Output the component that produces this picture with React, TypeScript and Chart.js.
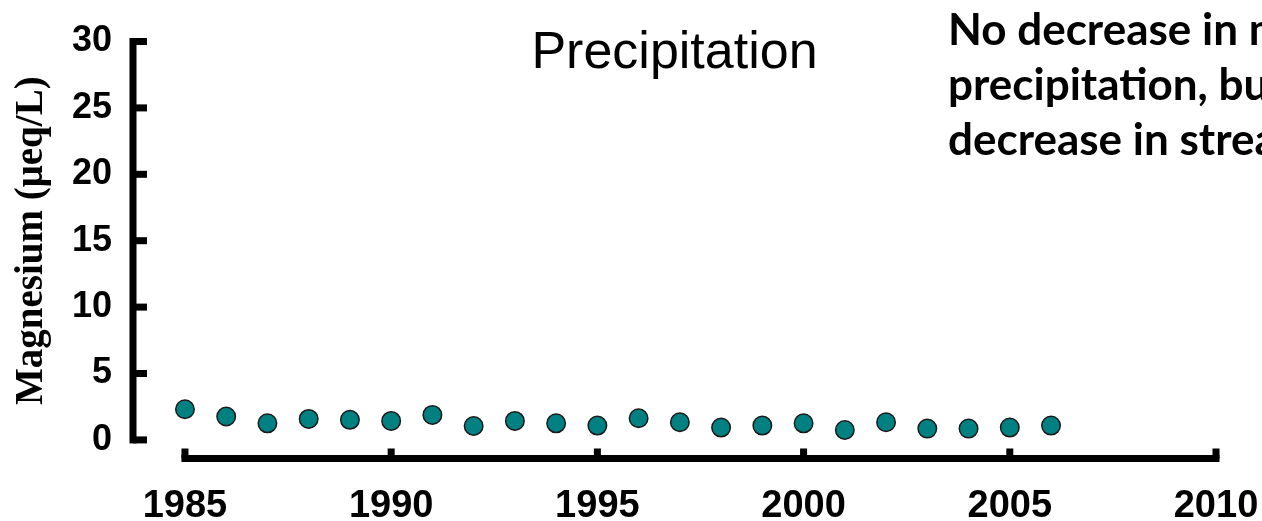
import React, { useEffect, useRef } from "react";
import { Chart, registerables } from "chart.js";

Chart.register(...registerables);

// Annual mean magnesium concentration in precipitation
const years = [
  1985, 1986, 1987, 1988, 1989, 1990, 1991, 1992, 1993, 1994, 1995,
  1996, 1997, 1998, 1999, 2000, 2001, 2002, 2003, 2004, 2005, 2006,
];
const magnesium = [
  2.31, 1.76, 1.25, 1.58, 1.51, 1.43, 1.88, 1.05, 1.43, 1.25, 1.08,
  1.63, 1.33, 0.93, 1.08, 1.25, 0.75, 1.33, 0.85, 0.85, 0.93, 1.08,
];

const xTicks = [1985, 1990, 1995, 2000, 2005, 2010];
const yTicks = [0, 5, 10, 15, 20, 25, 30];

const chartTitle = "Precipitation";
const yAxisTitle = "Magnesium (\u03bceq/L)";
const noteLines = [
  "No decrease in magnesium in",
  "precipitation, but a",
  "decrease in stream water",
];

const WIDTH = 1262;
const HEIGHT = 521;
const AXIS_W = 7;

// Axis lines drawn apart from each other, with inward/upward tick marks
const detachedAxes = {
  id: "detachedAxes",
  beforeDatasetsDraw(chart: any) {
    const { ctx, chartArea, scales } = chart;
    const x = scales.x;
    const y = scales.y;
    const half = AXIS_W / 2;
    ctx.save();
    ctx.fillStyle = "#000";

    const left = chartArea.left;
    const yTop = y.getPixelForValue(yTicks[yTicks.length - 1]);
    const yBot = y.getPixelForValue(yTicks[0]);
    ctx.fillRect(left - half, yTop - half, AXIS_W, yBot - yTop + AXIS_W);
    yTicks.forEach((v) => {
      const py = y.getPixelForValue(v);
      ctx.fillRect(left, py - half, 14, AXIS_W);
    });

    const base = chartArea.bottom;
    const x0 = x.getPixelForValue(xTicks[0]);
    const x1 = x.getPixelForValue(xTicks[xTicks.length - 1]);
    ctx.fillRect(x0 - half, base - half, x1 - x0 + AXIS_W, AXIS_W);
    xTicks.forEach((v) => {
      const px = x.getPixelForValue(v);
      ctx.fillRect(px - half, base - 10, AXIS_W, 10);
    });
    ctx.restore();
  },
};

// Chart title, rotated y-axis title and the side note
const textLayer = {
  id: "textLayer",
  afterDraw(chart: any) {
    const { ctx, chartArea, scales } = chart;
    ctx.save();
    ctx.fillStyle = "#000";

    ctx.font = "52px 'Liberation Sans', Arial, sans-serif";
    ctx.textAlign = "center";
    ctx.textBaseline = "alphabetic";
    ctx.fillText(chartTitle, (chartArea.left + chartArea.right) / 2, 68);

    const yMid =
      (scales.y.getPixelForValue(yTicks[0]) +
        scales.y.getPixelForValue(yTicks[yTicks.length - 1])) / 2;
    ctx.save();
    ctx.translate(42, yMid);
    ctx.rotate(-Math.PI / 2);
    ctx.font = "bold 39px 'Liberation Serif', 'Times New Roman', serif";
    ctx.textAlign = "center";
    ctx.textBaseline = "alphabetic";
    ctx.fillText(yAxisTitle, 0, 0);
    ctx.restore();

    ctx.font = "bold 44px Lato, 'Noto Sans', sans-serif";
    ctx.textAlign = "left";
    ctx.textBaseline = "alphabetic";
    noteLines.forEach((line, i) => {
      ctx.fillText(line, 948, 45 + i * 55);
    });
    ctx.restore();
  },
};

export default function App() {
  const canvasRef = useRef<HTMLCanvasElement | null>(null);

  useEffect(() => {
    const canvas = canvasRef.current;
    if (!canvas) return;

    const chart = new Chart(canvas, {
      type: "scatter",
      data: {
        datasets: [
          {
            label: "Magnesium",
            data: years.map((yr, i) => ({ x: yr, y: magnesium[i] })),
            pointRadius: 9.25,
            pointHoverRadius: 9.25,
            pointBorderWidth: 1.5,
            backgroundColor: "#008080",
            borderColor: "#1a1a1a",
          },
        ],
      },
      options: {
        responsive: false,
        animation: false,
        devicePixelRatio: 1,
        layout: { padding: { left: 0, right: 46, top: 41.5, bottom: 0 } },
        plugins: {
          legend: { display: false },
          tooltip: { enabled: false },
          title: { display: false },
        },
        scales: {
          x: {
            type: "linear",
            min: 1983.74,
            max: 2010,
            grid: { display: false, drawTicks: false },
            border: { display: false },
            afterBuildTicks: (scale: any) => {
              scale.ticks = xTicks.map((v) => ({ value: v }));
            },
            afterFit: (scale: any) => {
              scale.height = 62.5;
              scale.paddingLeft = 0;
              scale.paddingRight = 0;
            },
            ticks: {
              padding: 25,
              color: "#000",
              maxRotation: 0,
              autoSkip: false,
              font: { family: "'Liberation Sans', Arial, sans-serif", size: 38, weight: "bold" },
              callback: (v: any) => String(v),
            },
          },
          y: {
            type: "linear",
            min: -1.4,
            max: 30,
            grid: { display: false, drawTicks: false },
            border: { display: false },
            afterBuildTicks: (scale: any) => {
              scale.ticks = yTicks.map((v) => ({ value: v }));
            },
            afterFit: (scale: any) => {
              scale.width = 133;
              scale.paddingTop = 0;
              scale.paddingBottom = 0;
            },
            ticks: {
              padding: 21,
              color: "#000",
              autoSkip: false,
              font: { family: "'Liberation Sans', Arial, sans-serif", size: 36, weight: "bold" },
              callback: (v: any) => String(v),
            },
          },
        },
      },
      plugins: [detachedAxes, textLayer],
    });

    return () => chart.destroy();
  }, []);

  return (
    <div
      style={{
        position: "fixed",
        left: 0,
        top: 0,
        width: WIDTH,
        height: HEIGHT,
        background: "#fff",
      }}
    >
      <canvas ref={canvasRef} width={WIDTH} height={HEIGHT} style={{ display: "block" }} />
    </div>
  );
}
